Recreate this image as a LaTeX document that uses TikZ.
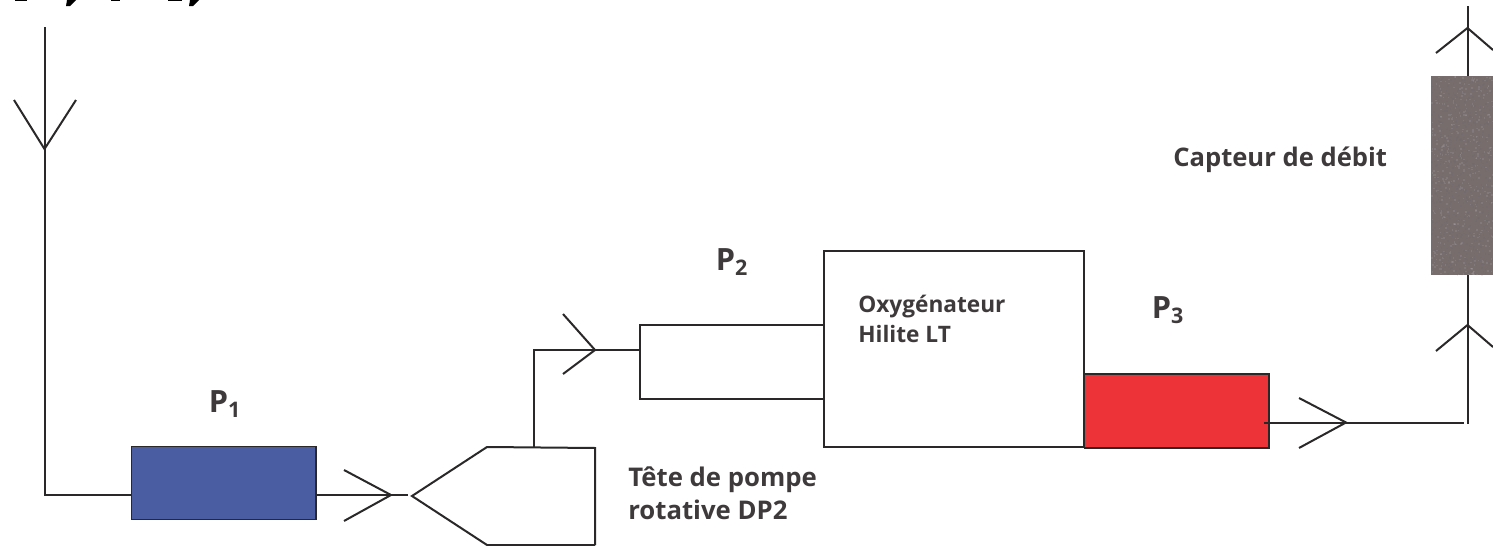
\documentclass[tikz,border=0pt]{standalone}
\usepackage{fontspec}
\setmainfont{Open Sans}
\definecolor{ink}{HTML}{2A2828}
\definecolor{lab}{HTML}{3E3A3B}
\definecolor{pone}{HTML}{4A5CA2}
\definecolor{pthree}{HTML}{EE3338}
\definecolor{sens}{HTML}{776D6D}
\tikzset{
  wire/.style={draw=ink,line width=1.5pt},
  box/.style={draw=ink,line width=1.3pt},
  lbl/.style={text=lab,align=left,anchor=west,inner sep=0pt},
  pl/.style={text=lab,inner sep=0pt}
}
\begin{document}
\begin{tikzpicture}[x=0.75pt,y=-0.75pt]
\useasboundingbox (0,0) rectangle (1493,546);
% clipped remains of the line above the figure
\fill[black] (15,0) rectangle (27,1.5);
\fill[black] (67,0) -- (76,0) -- (70,6) -- (66,6) -- cycle;
\fill[black] (111,0) rectangle (120,1.5);
\fill[black] (168,0) rectangle (182,1.5);
\fill[black] (190,0) -- (199,0) -- (193,6) -- (189,6) -- cycle;
% coordinates
\coordinate (topL) at (44.5,27);
\coordinate (tipL) at (44.5,149);
\coordinate (cornerL) at (44.5,495);
\coordinate (tipA) at (391,495);
\coordinate (endA) at (408,495);
% P1
\node[draw=ink,line width=1pt,fill=pone,minimum width=138.5pt,minimum height=55pt,inner sep=0pt] (P1) at (223.5,483) {};
\draw[wire] (topL) -- (cornerL) -- (P1.west |- cornerL);
\draw[wire] (14,100) -- (tipL) -- (76,100);
\draw[wire] (P1.east |- cornerL) -- (endA);
\draw[wire] (344,470) -- (tipA) -- (344,521);
% pump head
\coordinate (hN) at (487,447);
\coordinate (hW) at (412,496);
\coordinate (hS) at (487,545);
\coordinate (hNE) at (595,448);
\coordinate (hSE) at (595,545);
\draw[wire] (hSE) -- (hNE) -- (hN) -- (hW) -- (hS) -- (hSE);
\coordinate (upA) at (533.5,447);
\coordinate (upB) at (533.5,350);
\coordinate (tipB) at (595,350);
\coordinate (p2W) at (640,350);
\draw[wire] (upA) -- (upB) -- (p2W);
\draw[wire] (563,314) -- (tipB) -- (563,374);
% P2 tube
\coordinate (tNE) at (824,325);
\coordinate (tNW) at (640,325);
\coordinate (tSW) at (640,399);
\coordinate (tSE) at (824,399);
\draw[box] (tNE) -- (tNW) -- (tSW) -- (tSE);
% oxygenator
\node[box,minimum width=195pt,minimum height=147pt,inner sep=0pt] (OX) at (954,349) {};
% P3
\node[draw=ink,line width=1pt,fill=pthree,minimum width=138.5pt,minimum height=55.5pt,inner sep=0pt] (P3) at (1176.5,411) {};
\coordinate (p3o) at (1264,422.5);
\coordinate (tipC) at (1346,422.5);
\coordinate (endC) at (1464,422.5);
\draw[wire] (p3o) -- (endC);
\draw[wire] (1299,398) -- (tipC) -- (1299,448);
% sensor
\coordinate (vB) at (1467.5,424);
\coordinate (vT) at (1467.5,6);
\node[draw=none,fill=sens,anchor=north west,minimum width=47.5pt,minimum height=149pt,inner sep=0pt] (S) at (1431,76) {};
\begin{scope}
\clip (1431,76) rectangle (1493,275);
\pgfmathsetseed{7}
\foreach \i in {1,...,1200}{
  \pgfmathsetmacro{\gx}{1431+62*rnd}
  \pgfmathsetmacro{\gy}{76+199*rnd}
  \pgfmathsetmacro{\gs}{ifthenelse(rnd<0.6,60,15)}
  \fill[black!\gs!white,opacity=0.12] (\gx,\gy) rectangle +(1.6,1.6);
}
\end{scope}
\draw[wire] (vB) -- (S.south -| vB);
\draw[wire] (S.north -| vB) -- (vT);
\draw[wire] (1436,351) -- (1467.5,325) -- (1493,347);
\draw[wire] (1436,53) -- (1467.5,28) -- (1493,50);
% labels
\node[pl,font=\bfseries\fontsize{23}{26}\selectfont] (L1) at (225,404) {P\textsubscript{1}};
\node[pl,font=\bfseries\fontsize{23}{26}\selectfont] (L2) at (732,262) {P\textsubscript{2}};
\node[pl,font=\bfseries\fontsize{23}{26}\selectfont] (L3) at (1168,310) {P\textsubscript{3}};
\node[lbl,font=\bfseries\fontsize{17}{23}\selectfont] (Lox) at (858,319) {Oxygénateur\\Hilite LT};
\node[lbl,font=\bfseries\fontsize{19.3}{25}\selectfont] (Lp) at (628,493.5) {Tête de pompe\\rotative DP2};
\node[lbl,font=\bfseries\fontsize{19.2}{24}\selectfont] (Lc) at (1173,160) {Capteur de débit};
\end{tikzpicture}
\end{document}
